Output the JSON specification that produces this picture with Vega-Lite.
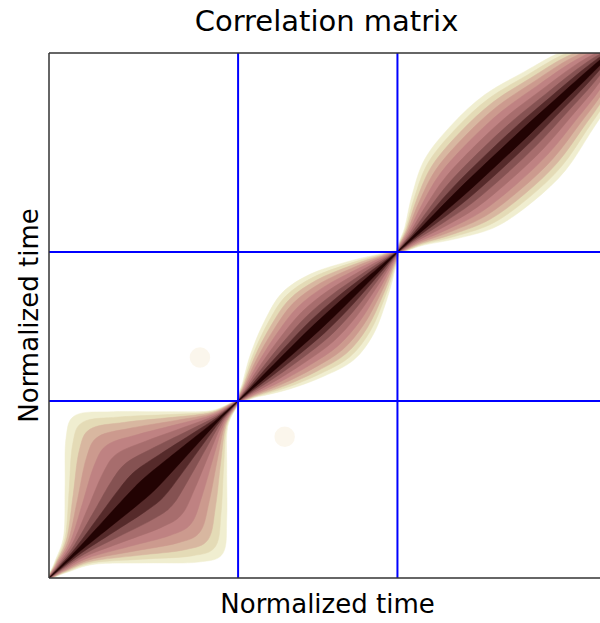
{
  "$schema": "https://vega.github.io/schema/vega-lite/v6.json",
  "width": 551,
  "height": 525,
  "autosize": {"type": "none"},
  "padding": {"left": 49, "top": 53, "right": 0, "bottom": 45},
  "background": "white",
  "config": {"view": {"stroke": null}},
  "title": {"text": "Correlation matrix", "font": "DejaVu Sans", "fontSize": 29, "fontWeight": "normal", "color": "#000000", "anchor": "middle", "baseline": "alphabetic", "offset": 21, "dx": 2, "dy": 29},
  "datasets": {
    "bands": [
      {"b":1,"k":1,"o":0,"x":0,"y":0},{"b":1,"k":1,"o":1,"x":0.0101,"y":0.0303},{"b":1,"k":1,"o":2,"x":0.0263,"y":0.0815},{"b":1,"k":1,"o":3,"x":0.0286,"y":0.1736},{"b":1,"k":1,"o":4,"x":0.0303,"y":0.2663},{"b":1,"k":1,"o":5,"x":0.0472,"y":0.31},{"b":1,"k":1,"o":6,"x":0.1146,"y":0.3168},{"b":1,"k":1,"o":7,"x":0.209,"y":0.3168},{"b":1,"k":1,"o":8,"x":0.2881,"y":0.3185},{"b":1,"k":1,"o":9,"x":0.337,"y":0.337},{"b":1,"k":1,"o":10,"x":0.3185,"y":0.2881},{"b":1,"k":1,"o":11,"x":0.3168,"y":0.209},{"b":1,"k":1,"o":12,"x":0.3168,"y":0.1146},{"b":1,"k":1,"o":13,"x":0.31,"y":0.0472},{"b":1,"k":1,"o":14,"x":0.2663,"y":0.0303},{"b":1,"k":1,"o":15,"x":0.1736,"y":0.0286},{"b":1,"k":1,"o":16,"x":0.0815,"y":0.0263},{"b":1,"k":1,"o":17,"x":0.0303,"y":0.0101},
      {"b":2,"k":1,"o":0,"x":0.337,"y":0.337},{"b":2,"k":1,"o":1,"x":0.3455,"y":0.3739},{"b":2,"k":1,"o":2,"x":0.3597,"y":0.4279},{"b":2,"k":1,"o":3,"x":0.3839,"y":0.4889},{"b":2,"k":1,"o":4,"x":0.4151,"y":0.5429},{"b":2,"k":1,"o":5,"x":0.4648,"y":0.5784},{"b":2,"k":1,"o":6,"x":0.5273,"y":0.6011},{"b":2,"k":1,"o":7,"x":0.5813,"y":0.6153},{"b":2,"k":1,"o":8,"x":0.621,"y":0.621},{"b":2,"k":1,"o":9,"x":0.6153,"y":0.5813},{"b":2,"k":1,"o":10,"x":0.6011,"y":0.5273},{"b":2,"k":1,"o":11,"x":0.5784,"y":0.4648},{"b":2,"k":1,"o":12,"x":0.5429,"y":0.4151},{"b":2,"k":1,"o":13,"x":0.4889,"y":0.3839},{"b":2,"k":1,"o":14,"x":0.4279,"y":0.3597},{"b":2,"k":1,"o":15,"x":0.3739,"y":0.3455},
      {"b":3,"k":1,"o":0,"x":0.621,"y":0.621},{"b":3,"k":1,"o":1,"x":0.6342,"y":0.6684},{"b":3,"k":1,"o":2,"x":0.6475,"y":0.7309},{"b":3,"k":1,"o":3,"x":0.6703,"y":0.7991},{"b":3,"k":1,"o":4,"x":0.7188,"y":0.8644},{"b":3,"k":1,"o":5,"x":0.7764,"y":0.9204},{"b":3,"k":1,"o":6,"x":0.8466,"y":0.964},{"b":3,"k":1,"o":7,"x":0.909,"y":1.0},{"b":3,"k":1,"o":8,"x":0.9621,"y":1.0151},{"b":3,"k":1,"o":9,"x":1,"y":1},{"b":3,"k":1,"o":10,"x":1.0151,"y":0.9621},{"b":3,"k":1,"o":11,"x":1.0,"y":0.909},{"b":3,"k":1,"o":12,"x":0.964,"y":0.8466},{"b":3,"k":1,"o":13,"x":0.9204,"y":0.7764},{"b":3,"k":1,"o":14,"x":0.8644,"y":0.7188},{"b":3,"k":1,"o":15,"x":0.7991,"y":0.6703},{"b":3,"k":1,"o":16,"x":0.7309,"y":0.6475},{"b":3,"k":1,"o":17,"x":0.6684,"y":0.6342},

      {"b":1,"k":2,"o":0,"x":0,"y":0},{"b":1,"k":2,"o":1,"x":0.0111,"y":0.0293},{"b":1,"k":2,"o":2,"x":0.0291,"y":0.0787},{"b":1,"k":2,"o":3,"x":0.0358,"y":0.1664},{"b":1,"k":2,"o":4,"x":0.0421,"y":0.2545},{"b":1,"k":2,"o":5,"x":0.0603,"y":0.2969},{"b":1,"k":2,"o":6,"x":0.1247,"y":0.3067},{"b":1,"k":2,"o":7,"x":0.2144,"y":0.3114},{"b":1,"k":2,"o":8,"x":0.2896,"y":0.317},{"b":1,"k":2,"o":9,"x":0.337,"y":0.337},{"b":1,"k":2,"o":10,"x":0.317,"y":0.2896},{"b":1,"k":2,"o":11,"x":0.3114,"y":0.2144},{"b":1,"k":2,"o":12,"x":0.3067,"y":0.1247},{"b":1,"k":2,"o":13,"x":0.2969,"y":0.0603},{"b":1,"k":2,"o":14,"x":0.2545,"y":0.0421},{"b":1,"k":2,"o":15,"x":0.1664,"y":0.0358},{"b":1,"k":2,"o":16,"x":0.0787,"y":0.0291},{"b":1,"k":2,"o":17,"x":0.0293,"y":0.0111},
      {"b":2,"k":2,"o":0,"x":0.337,"y":0.337},{"b":2,"k":2,"o":1,"x":0.3469,"y":0.3725},{"b":2,"k":2,"o":2,"x":0.3631,"y":0.4245},{"b":2,"k":2,"o":3,"x":0.3891,"y":0.4837},{"b":2,"k":2,"o":4,"x":0.4215,"y":0.5365},{"b":2,"k":2,"o":5,"x":0.4705,"y":0.5727},{"b":2,"k":2,"o":6,"x":0.531,"y":0.5974},{"b":2,"k":2,"o":7,"x":0.583,"y":0.6136},{"b":2,"k":2,"o":8,"x":0.621,"y":0.621},{"b":2,"k":2,"o":9,"x":0.6136,"y":0.583},{"b":2,"k":2,"o":10,"x":0.5974,"y":0.531},{"b":2,"k":2,"o":11,"x":0.5727,"y":0.4705},{"b":2,"k":2,"o":12,"x":0.5365,"y":0.4215},{"b":2,"k":2,"o":13,"x":0.4837,"y":0.3891},{"b":2,"k":2,"o":14,"x":0.4245,"y":0.3631},{"b":2,"k":2,"o":15,"x":0.3725,"y":0.3469},
      {"b":3,"k":2,"o":0,"x":0.621,"y":0.621},{"b":3,"k":2,"o":1,"x":0.6359,"y":0.6667},{"b":3,"k":2,"o":2,"x":0.6517,"y":0.7267},{"b":3,"k":2,"o":3,"x":0.6767,"y":0.7927},{"b":3,"k":2,"o":4,"x":0.7261,"y":0.8571},{"b":3,"k":2,"o":5,"x":0.7836,"y":0.9132},{"b":3,"k":2,"o":6,"x":0.8525,"y":0.9581},{"b":3,"k":2,"o":7,"x":0.9135,"y":0.9955},{"b":3,"k":2,"o":8,"x":0.9647,"y":1.0125},{"b":3,"k":2,"o":9,"x":1,"y":1},{"b":3,"k":2,"o":10,"x":1.0125,"y":0.9647},{"b":3,"k":2,"o":11,"x":0.9955,"y":0.9135},{"b":3,"k":2,"o":12,"x":0.9581,"y":0.8525},{"b":3,"k":2,"o":13,"x":0.9132,"y":0.7836},{"b":3,"k":2,"o":14,"x":0.8571,"y":0.7261},{"b":3,"k":2,"o":15,"x":0.7927,"y":0.6767},{"b":3,"k":2,"o":16,"x":0.7267,"y":0.6517},{"b":3,"k":2,"o":17,"x":0.6667,"y":0.6359},

      {"b":1,"k":3,"o":0,"x":0,"y":0},{"b":1,"k":3,"o":1,"x":0.0121,"y":0.0283},{"b":1,"k":3,"o":2,"x":0.0318,"y":0.076},{"b":1,"k":3,"o":3,"x":0.0431,"y":0.1591},{"b":1,"k":3,"o":4,"x":0.0539,"y":0.2427},{"b":1,"k":3,"o":5,"x":0.0735,"y":0.2837},{"b":1,"k":3,"o":6,"x":0.1348,"y":0.2966},{"b":1,"k":3,"o":7,"x":0.2198,"y":0.306},{"b":1,"k":3,"o":8,"x":0.2911,"y":0.3155},{"b":1,"k":3,"o":9,"x":0.337,"y":0.337},{"b":1,"k":3,"o":10,"x":0.3155,"y":0.2911},{"b":1,"k":3,"o":11,"x":0.306,"y":0.2198},{"b":1,"k":3,"o":12,"x":0.2966,"y":0.1348},{"b":1,"k":3,"o":13,"x":0.2837,"y":0.0735},{"b":1,"k":3,"o":14,"x":0.2427,"y":0.0539},{"b":1,"k":3,"o":15,"x":0.1591,"y":0.0431},{"b":1,"k":3,"o":16,"x":0.076,"y":0.0318},{"b":1,"k":3,"o":17,"x":0.0283,"y":0.0121},
      {"b":2,"k":3,"o":0,"x":0.337,"y":0.337},{"b":2,"k":3,"o":1,"x":0.3483,"y":0.3711},{"b":2,"k":3,"o":2,"x":0.3665,"y":0.4211},{"b":2,"k":3,"o":3,"x":0.3944,"y":0.4784},{"b":2,"k":3,"o":4,"x":0.4279,"y":0.5301},{"b":2,"k":3,"o":5,"x":0.4762,"y":0.567},{"b":2,"k":3,"o":6,"x":0.5347,"y":0.5937},{"b":2,"k":3,"o":7,"x":0.5847,"y":0.6119},{"b":2,"k":3,"o":8,"x":0.621,"y":0.621},{"b":2,"k":3,"o":9,"x":0.6119,"y":0.5847},{"b":2,"k":3,"o":10,"x":0.5937,"y":0.5347},{"b":2,"k":3,"o":11,"x":0.567,"y":0.4762},{"b":2,"k":3,"o":12,"x":0.5301,"y":0.4279},{"b":2,"k":3,"o":13,"x":0.4784,"y":0.3944},{"b":2,"k":3,"o":14,"x":0.4211,"y":0.3665},{"b":2,"k":3,"o":15,"x":0.3711,"y":0.3483},
      {"b":3,"k":3,"o":0,"x":0.621,"y":0.621},{"b":3,"k":3,"o":1,"x":0.6376,"y":0.665},{"b":3,"k":3,"o":2,"x":0.6558,"y":0.7226},{"b":3,"k":3,"o":3,"x":0.6832,"y":0.7862},{"b":3,"k":3,"o":4,"x":0.7334,"y":0.8498},{"b":3,"k":3,"o":5,"x":0.7908,"y":0.906},{"b":3,"k":3,"o":6,"x":0.8583,"y":0.9523},{"b":3,"k":3,"o":7,"x":0.9181,"y":0.9909},{"b":3,"k":3,"o":8,"x":0.9674,"y":1.0098},{"b":3,"k":3,"o":9,"x":1,"y":1},{"b":3,"k":3,"o":10,"x":1.0098,"y":0.9674},{"b":3,"k":3,"o":11,"x":0.9909,"y":0.9181},{"b":3,"k":3,"o":12,"x":0.9523,"y":0.8583},{"b":3,"k":3,"o":13,"x":0.906,"y":0.7908},{"b":3,"k":3,"o":14,"x":0.8498,"y":0.7334},{"b":3,"k":3,"o":15,"x":0.7862,"y":0.6832},{"b":3,"k":3,"o":16,"x":0.7226,"y":0.6558},{"b":3,"k":3,"o":17,"x":0.665,"y":0.6376},

      {"b":1,"k":4,"o":0,"x":0,"y":0},{"b":1,"k":4,"o":1,"x":0.0132,"y":0.0272},{"b":1,"k":4,"o":2,"x":0.0349,"y":0.0729},{"b":1,"k":4,"o":3,"x":0.0511,"y":0.1511},{"b":1,"k":4,"o":4,"x":0.0669,"y":0.2297},{"b":1,"k":4,"o":5,"x":0.0879,"y":0.2693},{"b":1,"k":4,"o":6,"x":0.1459,"y":0.2855},{"b":1,"k":4,"o":7,"x":0.2257,"y":0.3001},{"b":1,"k":4,"o":8,"x":0.2928,"y":0.3138},{"b":1,"k":4,"o":9,"x":0.337,"y":0.337},{"b":1,"k":4,"o":10,"x":0.3138,"y":0.2928},{"b":1,"k":4,"o":11,"x":0.3001,"y":0.2257},{"b":1,"k":4,"o":12,"x":0.2855,"y":0.1459},{"b":1,"k":4,"o":13,"x":0.2693,"y":0.0879},{"b":1,"k":4,"o":14,"x":0.2297,"y":0.0669},{"b":1,"k":4,"o":15,"x":0.1511,"y":0.0511},{"b":1,"k":4,"o":16,"x":0.0729,"y":0.0349},{"b":1,"k":4,"o":17,"x":0.0272,"y":0.0132},
      {"b":2,"k":4,"o":0,"x":0.337,"y":0.337},{"b":2,"k":4,"o":1,"x":0.3499,"y":0.3695},{"b":2,"k":4,"o":2,"x":0.3703,"y":0.4173},{"b":2,"k":4,"o":3,"x":0.4002,"y":0.4726},{"b":2,"k":4,"o":4,"x":0.4349,"y":0.5231},{"b":2,"k":4,"o":5,"x":0.4824,"y":0.5608},{"b":2,"k":4,"o":6,"x":0.5387,"y":0.5897},{"b":2,"k":4,"o":7,"x":0.5866,"y":0.61},{"b":2,"k":4,"o":8,"x":0.621,"y":0.621},{"b":2,"k":4,"o":9,"x":0.61,"y":0.5866},{"b":2,"k":4,"o":10,"x":0.5897,"y":0.5387},{"b":2,"k":4,"o":11,"x":0.5608,"y":0.4824},{"b":2,"k":4,"o":12,"x":0.5231,"y":0.4349},{"b":2,"k":4,"o":13,"x":0.4726,"y":0.4002},{"b":2,"k":4,"o":14,"x":0.4173,"y":0.3703},{"b":2,"k":4,"o":15,"x":0.3695,"y":0.3499},
      {"b":3,"k":4,"o":0,"x":0.621,"y":0.621},{"b":3,"k":4,"o":1,"x":0.6395,"y":0.6631},{"b":3,"k":4,"o":2,"x":0.6604,"y":0.718},{"b":3,"k":4,"o":3,"x":0.6903,"y":0.7791},{"b":3,"k":4,"o":4,"x":0.7414,"y":0.8418},{"b":3,"k":4,"o":5,"x":0.7987,"y":0.8981},{"b":3,"k":4,"o":6,"x":0.8648,"y":0.9458},{"b":3,"k":4,"o":7,"x":0.9231,"y":0.9859},{"b":3,"k":4,"o":8,"x":0.9703,"y":1.0069},{"b":3,"k":4,"o":9,"x":1,"y":1},{"b":3,"k":4,"o":10,"x":1.0069,"y":0.9703},{"b":3,"k":4,"o":11,"x":0.9859,"y":0.9231},{"b":3,"k":4,"o":12,"x":0.9458,"y":0.8648},{"b":3,"k":4,"o":13,"x":0.8981,"y":0.7987},{"b":3,"k":4,"o":14,"x":0.8418,"y":0.7414},{"b":3,"k":4,"o":15,"x":0.7791,"y":0.6903},{"b":3,"k":4,"o":16,"x":0.718,"y":0.6604},{"b":3,"k":4,"o":17,"x":0.6631,"y":0.6395},

      {"b":1,"k":5,"o":0,"x":0,"y":0},{"b":1,"k":5,"o":1,"x":0.0144,"y":0.026},{"b":1,"k":5,"o":2,"x":0.0382,"y":0.0696},{"b":1,"k":5,"o":3,"x":0.0598,"y":0.1424},{"b":1,"k":5,"o":4,"x":0.081,"y":0.2156},{"b":1,"k":5,"o":5,"x":0.1037,"y":0.2535},{"b":1,"k":5,"o":6,"x":0.1581,"y":0.2733},{"b":1,"k":5,"o":7,"x":0.2322,"y":0.2936},{"b":1,"k":5,"o":8,"x":0.2946,"y":0.312},{"b":1,"k":5,"o":9,"x":0.337,"y":0.337},{"b":1,"k":5,"o":10,"x":0.312,"y":0.2946},{"b":1,"k":5,"o":11,"x":0.2936,"y":0.2322},{"b":1,"k":5,"o":12,"x":0.2733,"y":0.1581},{"b":1,"k":5,"o":13,"x":0.2535,"y":0.1037},{"b":1,"k":5,"o":14,"x":0.2156,"y":0.081},{"b":1,"k":5,"o":15,"x":0.1424,"y":0.0598},{"b":1,"k":5,"o":16,"x":0.0696,"y":0.0382},{"b":1,"k":5,"o":17,"x":0.026,"y":0.0144},
      {"b":2,"k":5,"o":0,"x":0.337,"y":0.337},{"b":2,"k":5,"o":1,"x":0.3516,"y":0.3678},{"b":2,"k":5,"o":2,"x":0.3744,"y":0.4132},{"b":2,"k":5,"o":3,"x":0.4065,"y":0.4663},{"b":2,"k":5,"o":4,"x":0.4426,"y":0.5154},{"b":2,"k":5,"o":5,"x":0.4892,"y":0.554},{"b":2,"k":5,"o":6,"x":0.5432,"y":0.5852},{"b":2,"k":5,"o":7,"x":0.5886,"y":0.608},{"b":2,"k":5,"o":8,"x":0.621,"y":0.621},{"b":2,"k":5,"o":9,"x":0.608,"y":0.5886},{"b":2,"k":5,"o":10,"x":0.5852,"y":0.5432},{"b":2,"k":5,"o":11,"x":0.554,"y":0.4892},{"b":2,"k":5,"o":12,"x":0.5154,"y":0.4426},{"b":2,"k":5,"o":13,"x":0.4663,"y":0.4065},{"b":2,"k":5,"o":14,"x":0.4132,"y":0.3744},{"b":2,"k":5,"o":15,"x":0.3678,"y":0.3516},
      {"b":3,"k":5,"o":0,"x":0.621,"y":0.621},{"b":3,"k":5,"o":1,"x":0.6416,"y":0.661},{"b":3,"k":5,"o":2,"x":0.6654,"y":0.713},{"b":3,"k":5,"o":3,"x":0.698,"y":0.7714},{"b":3,"k":5,"o":4,"x":0.7501,"y":0.8331},{"b":3,"k":5,"o":5,"x":0.8074,"y":0.8894},{"b":3,"k":5,"o":6,"x":0.8718,"y":0.9388},{"b":3,"k":5,"o":7,"x":0.9286,"y":0.9804},{"b":3,"k":5,"o":8,"x":0.9735,"y":1.0037},{"b":3,"k":5,"o":9,"x":1,"y":1},{"b":3,"k":5,"o":10,"x":1.0037,"y":0.9735},{"b":3,"k":5,"o":11,"x":0.9804,"y":0.9286},{"b":3,"k":5,"o":12,"x":0.9388,"y":0.8718},{"b":3,"k":5,"o":13,"x":0.8894,"y":0.8074},{"b":3,"k":5,"o":14,"x":0.8331,"y":0.7501},{"b":3,"k":5,"o":15,"x":0.7714,"y":0.698},{"b":3,"k":5,"o":16,"x":0.713,"y":0.6654},{"b":3,"k":5,"o":17,"x":0.661,"y":0.6416},

      {"b":1,"k":6,"o":0,"x":0,"y":0},{"b":1,"k":6,"o":1,"x":0.0158,"y":0.0246},{"b":1,"k":6,"o":2,"x":0.0418,"y":0.066},{"b":1,"k":6,"o":3,"x":0.0692,"y":0.133},{"b":1,"k":6,"o":4,"x":0.0964,"y":0.2002},{"b":1,"k":6,"o":5,"x":0.1208,"y":0.2364},{"b":1,"k":6,"o":6,"x":0.1712,"y":0.2602},{"b":1,"k":6,"o":7,"x":0.2392,"y":0.2866},{"b":1,"k":6,"o":8,"x":0.2966,"y":0.31},{"b":1,"k":6,"o":9,"x":0.337,"y":0.337},{"b":1,"k":6,"o":10,"x":0.31,"y":0.2966},{"b":1,"k":6,"o":11,"x":0.2866,"y":0.2392},{"b":1,"k":6,"o":12,"x":0.2602,"y":0.1712},{"b":1,"k":6,"o":13,"x":0.2364,"y":0.1208},{"b":1,"k":6,"o":14,"x":0.2002,"y":0.0964},{"b":1,"k":6,"o":15,"x":0.133,"y":0.0692},{"b":1,"k":6,"o":16,"x":0.066,"y":0.0418},{"b":1,"k":6,"o":17,"x":0.0246,"y":0.0158},
      {"b":2,"k":6,"o":0,"x":0.337,"y":0.337},{"b":2,"k":6,"o":1,"x":0.3535,"y":0.3659},{"b":2,"k":6,"o":2,"x":0.3788,"y":0.4088},{"b":2,"k":6,"o":3,"x":0.4133,"y":0.4595},{"b":2,"k":6,"o":4,"x":0.4509,"y":0.5071},{"b":2,"k":6,"o":5,"x":0.4966,"y":0.5466},{"b":2,"k":6,"o":6,"x":0.548,"y":0.5804},{"b":2,"k":6,"o":7,"x":0.5908,"y":0.6058},{"b":2,"k":6,"o":8,"x":0.621,"y":0.621},{"b":2,"k":6,"o":9,"x":0.6058,"y":0.5908},{"b":2,"k":6,"o":10,"x":0.5804,"y":0.548},{"b":2,"k":6,"o":11,"x":0.5466,"y":0.4966},{"b":2,"k":6,"o":12,"x":0.5071,"y":0.4509},{"b":2,"k":6,"o":13,"x":0.4595,"y":0.4133},{"b":2,"k":6,"o":14,"x":0.4088,"y":0.3788},{"b":2,"k":6,"o":15,"x":0.3659,"y":0.3535},
      {"b":3,"k":6,"o":0,"x":0.621,"y":0.621},{"b":3,"k":6,"o":1,"x":0.6438,"y":0.6588},{"b":3,"k":6,"o":2,"x":0.6709,"y":0.7075},{"b":3,"k":6,"o":3,"x":0.7064,"y":0.763},{"b":3,"k":6,"o":4,"x":0.7596,"y":0.8236},{"b":3,"k":6,"o":5,"x":0.8167,"y":0.8801},{"b":3,"k":6,"o":6,"x":0.8795,"y":0.9311},{"b":3,"k":6,"o":7,"x":0.9345,"y":0.9745},{"b":3,"k":6,"o":8,"x":0.9769,"y":1.0003},{"b":3,"k":6,"o":9,"x":1,"y":1},{"b":3,"k":6,"o":10,"x":1.0003,"y":0.9769},{"b":3,"k":6,"o":11,"x":0.9745,"y":0.9345},{"b":3,"k":6,"o":12,"x":0.9311,"y":0.8795},{"b":3,"k":6,"o":13,"x":0.8801,"y":0.8167},{"b":3,"k":6,"o":14,"x":0.8236,"y":0.7596},{"b":3,"k":6,"o":15,"x":0.763,"y":0.7064},{"b":3,"k":6,"o":16,"x":0.7075,"y":0.6709},{"b":3,"k":6,"o":17,"x":0.6588,"y":0.6438},

      {"b":1,"k":7,"o":0,"x":0,"y":0},{"b":1,"k":7,"o":1,"x":0.0171,"y":0.0233},{"b":1,"k":7,"o":2,"x":0.0453,"y":0.0625},{"b":1,"k":7,"o":3,"x":0.0786,"y":0.1236},{"b":1,"k":7,"o":4,"x":0.1117,"y":0.1849},{"b":1,"k":7,"o":5,"x":0.1379,"y":0.2193},{"b":1,"k":7,"o":6,"x":0.1844,"y":0.247},{"b":1,"k":7,"o":7,"x":0.2462,"y":0.2796},{"b":1,"k":7,"o":8,"x":0.2986,"y":0.308},{"b":1,"k":7,"o":9,"x":0.337,"y":0.337},{"b":1,"k":7,"o":10,"x":0.308,"y":0.2986},{"b":1,"k":7,"o":11,"x":0.2796,"y":0.2462},{"b":1,"k":7,"o":12,"x":0.247,"y":0.1844},{"b":1,"k":7,"o":13,"x":0.2193,"y":0.1379},{"b":1,"k":7,"o":14,"x":0.1849,"y":0.1117},{"b":1,"k":7,"o":15,"x":0.1236,"y":0.0786},{"b":1,"k":7,"o":16,"x":0.0625,"y":0.0453},{"b":1,"k":7,"o":17,"x":0.0233,"y":0.0171},
      {"b":2,"k":7,"o":0,"x":0.337,"y":0.337},{"b":2,"k":7,"o":1,"x":0.3553,"y":0.3641},{"b":2,"k":7,"o":2,"x":0.3832,"y":0.4044},{"b":2,"k":7,"o":3,"x":0.4201,"y":0.4527},{"b":2,"k":7,"o":4,"x":0.4592,"y":0.4988},{"b":2,"k":7,"o":5,"x":0.504,"y":0.5392},{"b":2,"k":7,"o":6,"x":0.5528,"y":0.5756},{"b":2,"k":7,"o":7,"x":0.593,"y":0.6036},{"b":2,"k":7,"o":8,"x":0.621,"y":0.621},{"b":2,"k":7,"o":9,"x":0.6036,"y":0.593},{"b":2,"k":7,"o":10,"x":0.5756,"y":0.5528},{"b":2,"k":7,"o":11,"x":0.5392,"y":0.504},{"b":2,"k":7,"o":12,"x":0.4988,"y":0.4592},{"b":2,"k":7,"o":13,"x":0.4527,"y":0.4201},{"b":2,"k":7,"o":14,"x":0.4044,"y":0.3832},{"b":2,"k":7,"o":15,"x":0.3641,"y":0.3553},
      {"b":3,"k":7,"o":0,"x":0.621,"y":0.621},{"b":3,"k":7,"o":1,"x":0.646,"y":0.6566},{"b":3,"k":7,"o":2,"x":0.6763,"y":0.7021},{"b":3,"k":7,"o":3,"x":0.7147,"y":0.7547},{"b":3,"k":7,"o":4,"x":0.769,"y":0.8142},{"b":3,"k":7,"o":5,"x":0.8261,"y":0.8707},{"b":3,"k":7,"o":6,"x":0.8871,"y":0.9235},{"b":3,"k":7,"o":7,"x":0.9404,"y":0.9686},{"b":3,"k":7,"o":8,"x":0.9804,"y":0.9968},{"b":3,"k":7,"o":9,"x":1,"y":1},{"b":3,"k":7,"o":10,"x":0.9968,"y":0.9804},{"b":3,"k":7,"o":11,"x":0.9686,"y":0.9404},{"b":3,"k":7,"o":12,"x":0.9235,"y":0.8871},{"b":3,"k":7,"o":13,"x":0.8707,"y":0.8261},{"b":3,"k":7,"o":14,"x":0.8142,"y":0.769},{"b":3,"k":7,"o":15,"x":0.7547,"y":0.7147},{"b":3,"k":7,"o":16,"x":0.7021,"y":0.6763},{"b":3,"k":7,"o":17,"x":0.6566,"y":0.646},

      {"b":1,"k":8,"o":0,"x":0,"y":0},{"b":1,"k":8,"o":1,"x":0.0183,"y":0.0221},{"b":1,"k":8,"o":2,"x":0.0487,"y":0.0591},{"b":1,"k":8,"o":3,"x":0.0873,"y":0.1149},{"b":1,"k":8,"o":4,"x":0.1259,"y":0.1707},{"b":1,"k":8,"o":5,"x":0.1536,"y":0.2036},{"b":1,"k":8,"o":6,"x":0.1965,"y":0.2349},{"b":1,"k":8,"o":7,"x":0.2527,"y":0.2731},{"b":1,"k":8,"o":8,"x":0.3004,"y":0.3062},{"b":1,"k":8,"o":9,"x":0.337,"y":0.337},{"b":1,"k":8,"o":10,"x":0.3062,"y":0.3004},{"b":1,"k":8,"o":11,"x":0.2731,"y":0.2527},{"b":1,"k":8,"o":12,"x":0.2349,"y":0.1965},{"b":1,"k":8,"o":13,"x":0.2036,"y":0.1536},{"b":1,"k":8,"o":14,"x":0.1707,"y":0.1259},{"b":1,"k":8,"o":15,"x":0.1149,"y":0.0873},{"b":1,"k":8,"o":16,"x":0.0591,"y":0.0487},{"b":1,"k":8,"o":17,"x":0.0221,"y":0.0183},
      {"b":2,"k":8,"o":0,"x":0.337,"y":0.337},{"b":2,"k":8,"o":1,"x":0.357,"y":0.3624},{"b":2,"k":8,"o":2,"x":0.3873,"y":0.4003},{"b":2,"k":8,"o":3,"x":0.4264,"y":0.4464},{"b":2,"k":8,"o":4,"x":0.4669,"y":0.4911},{"b":2,"k":8,"o":5,"x":0.5108,"y":0.5324},{"b":2,"k":8,"o":6,"x":0.5572,"y":0.5712},{"b":2,"k":8,"o":7,"x":0.5951,"y":0.6015},{"b":2,"k":8,"o":8,"x":0.621,"y":0.621},{"b":2,"k":8,"o":9,"x":0.6015,"y":0.5951},{"b":2,"k":8,"o":10,"x":0.5712,"y":0.5572},{"b":2,"k":8,"o":11,"x":0.5324,"y":0.5108},{"b":2,"k":8,"o":12,"x":0.4911,"y":0.4669},{"b":2,"k":8,"o":13,"x":0.4464,"y":0.4264},{"b":2,"k":8,"o":14,"x":0.4003,"y":0.3873},{"b":2,"k":8,"o":15,"x":0.3624,"y":0.357},
      {"b":3,"k":8,"o":0,"x":0.621,"y":0.621},{"b":3,"k":8,"o":1,"x":0.6481,"y":0.6545},{"b":3,"k":8,"o":2,"x":0.6813,"y":0.6971},{"b":3,"k":8,"o":3,"x":0.7225,"y":0.7469},{"b":3,"k":8,"o":4,"x":0.7778,"y":0.8054},{"b":3,"k":8,"o":5,"x":0.8347,"y":0.8621},{"b":3,"k":8,"o":6,"x":0.8941,"y":0.9165},{"b":3,"k":8,"o":7,"x":0.9459,"y":0.9631},{"b":3,"k":8,"o":8,"x":0.9836,"y":0.9936},{"b":3,"k":8,"o":9,"x":1,"y":1},{"b":3,"k":8,"o":10,"x":0.9936,"y":0.9836},{"b":3,"k":8,"o":11,"x":0.9631,"y":0.9459},{"b":3,"k":8,"o":12,"x":0.9165,"y":0.8941},{"b":3,"k":8,"o":13,"x":0.8621,"y":0.8347},{"b":3,"k":8,"o":14,"x":0.8054,"y":0.7778},{"b":3,"k":8,"o":15,"x":0.7469,"y":0.7225},{"b":3,"k":8,"o":16,"x":0.6971,"y":0.6813},{"b":3,"k":8,"o":17,"x":0.6545,"y":0.6481},

      {"b":1,"k":9,"o":0,"x":0,"y":0},{"b":1,"k":9,"o":1,"x":0.0194,"y":0.021},{"b":1,"k":9,"o":2,"x":0.0517,"y":0.0561},{"b":1,"k":9,"o":3,"x":0.0953,"y":0.1069},{"b":1,"k":9,"o":4,"x":0.1389,"y":0.1577},{"b":1,"k":9,"o":5,"x":0.1681,"y":0.1891},{"b":1,"k":9,"o":6,"x":0.2076,"y":0.2238},{"b":1,"k":9,"o":7,"x":0.2586,"y":0.2672},{"b":1,"k":9,"o":8,"x":0.3021,"y":0.3045},{"b":1,"k":9,"o":9,"x":0.337,"y":0.337},{"b":1,"k":9,"o":10,"x":0.3045,"y":0.3021},{"b":1,"k":9,"o":11,"x":0.2672,"y":0.2586},{"b":1,"k":9,"o":12,"x":0.2238,"y":0.2076},{"b":1,"k":9,"o":13,"x":0.1891,"y":0.1681},{"b":1,"k":9,"o":14,"x":0.1577,"y":0.1389},{"b":1,"k":9,"o":15,"x":0.1069,"y":0.0953},{"b":1,"k":9,"o":16,"x":0.0561,"y":0.0517},{"b":1,"k":9,"o":17,"x":0.021,"y":0.0194},
      {"b":2,"k":9,"o":0,"x":0.337,"y":0.337},{"b":2,"k":9,"o":1,"x":0.3586,"y":0.3608},{"b":2,"k":9,"o":2,"x":0.3911,"y":0.3965},{"b":2,"k":9,"o":3,"x":0.4322,"y":0.4406},{"b":2,"k":9,"o":4,"x":0.4739,"y":0.4841},{"b":2,"k":9,"o":5,"x":0.5171,"y":0.5261},{"b":2,"k":9,"o":6,"x":0.5612,"y":0.5672},{"b":2,"k":9,"o":7,"x":0.5969,"y":0.5997},{"b":2,"k":9,"o":8,"x":0.621,"y":0.621},{"b":2,"k":9,"o":9,"x":0.5997,"y":0.5969},{"b":2,"k":9,"o":10,"x":0.5672,"y":0.5612},{"b":2,"k":9,"o":11,"x":0.5261,"y":0.5171},{"b":2,"k":9,"o":12,"x":0.4841,"y":0.4739},{"b":2,"k":9,"o":13,"x":0.4406,"y":0.4322},{"b":2,"k":9,"o":14,"x":0.3965,"y":0.3911},{"b":2,"k":9,"o":15,"x":0.3608,"y":0.3586},
      {"b":3,"k":9,"o":0,"x":0.621,"y":0.621},{"b":3,"k":9,"o":1,"x":0.6499,"y":0.6527},{"b":3,"k":9,"o":2,"x":0.6859,"y":0.6925},{"b":3,"k":9,"o":3,"x":0.7295,"y":0.7399},{"b":3,"k":9,"o":4,"x":0.7858,"y":0.7974},{"b":3,"k":9,"o":5,"x":0.8426,"y":0.8542},{"b":3,"k":9,"o":6,"x":0.9006,"y":0.91},{"b":3,"k":9,"o":7,"x":0.9509,"y":0.9581},{"b":3,"k":9,"o":8,"x":0.9865,"y":0.9907},{"b":3,"k":9,"o":9,"x":1,"y":1},{"b":3,"k":9,"o":10,"x":0.9907,"y":0.9865},{"b":3,"k":9,"o":11,"x":0.9581,"y":0.9509},{"b":3,"k":9,"o":12,"x":0.91,"y":0.9006},{"b":3,"k":9,"o":13,"x":0.8542,"y":0.8426},{"b":3,"k":9,"o":14,"x":0.7974,"y":0.7858},{"b":3,"k":9,"o":15,"x":0.7399,"y":0.7295},{"b":3,"k":9,"o":16,"x":0.6925,"y":0.6859},{"b":3,"k":9,"o":17,"x":0.6527,"y":0.6499}
    ],
    "spots": [{"x": 0.269, "y": 0.42}, {"x": 0.42, "y": 0.269}],
    "cuts": [{"p": 0.337}, {"p": 0.621}],
    "edges": [{"v": 0}, {"v": 1}]
  },
  "layer": [
    {
      "data": {"name": "bands"},
      "transform": [{"filter": "datum.k == 1"}],
      "mark": {"type": "line", "interpolate": "cardinal-closed", "fill": "#f0eed0", "color": "#f0eed0", "strokeWidth": 0.5, "clip": true},
      "encoding": {
        "x": {"field": "x", "type": "quantitative", "scale": {"domain": [0, 0.982], "nice": false, "zero": false},
          "axis": {"title": "Normalized time", "labels": false, "ticks": false, "domain": false, "grid": false, "titleFont": "DejaVu Sans", "titleFontSize": 26, "titleFontWeight": "normal", "titleColor": "#000000", "titleX": 278, "titleY": 34, "titleBaseline": "alphabetic", "titleAlign": "center"}},
        "y": {"field": "y", "type": "quantitative", "scale": {"domain": [0, 1], "nice": false, "zero": false},
          "axis": {"title": "Normalized time", "labels": false, "ticks": false, "domain": false, "grid": false, "titleFont": "DejaVu Sans", "titleFontSize": 26, "titleFontWeight": "normal", "titleColor": "#000000", "titleX": -12, "titleY": 262, "titleAngle": 270, "titleBaseline": "alphabetic", "titleAlign": "center"}},
        "detail": {"field": "b"},
        "order": {"field": "o", "type": "quantitative"}
      }
    },
    {"data": {"name": "bands"}, "transform": [{"filter": "datum.k == 2"}], "mark": {"type": "line", "interpolate": "cardinal-closed", "fill": "#e4dbb6", "color": "#e4dbb6", "strokeWidth": 0.5, "clip": true},
      "encoding": {"x": {"field": "x", "type": "quantitative"}, "y": {"field": "y", "type": "quantitative"}, "detail": {"field": "b"}, "order": {"field": "o", "type": "quantitative"}}},
    {"data": {"name": "bands"}, "transform": [{"filter": "datum.k == 3"}], "mark": {"type": "line", "interpolate": "cardinal-closed", "fill": "#d8b7a0", "color": "#d8b7a0", "strokeWidth": 0.5, "clip": true},
      "encoding": {"x": {"field": "x", "type": "quantitative"}, "y": {"field": "y", "type": "quantitative"}, "detail": {"field": "b"}, "order": {"field": "o", "type": "quantitative"}}},
    {"data": {"name": "bands"}, "transform": [{"filter": "datum.k == 4"}], "mark": {"type": "line", "interpolate": "cardinal-closed", "fill": "#cc9a8e", "color": "#cc9a8e", "strokeWidth": 0.5, "clip": true},
      "encoding": {"x": {"field": "x", "type": "quantitative"}, "y": {"field": "y", "type": "quantitative"}, "detail": {"field": "b"}, "order": {"field": "o", "type": "quantitative"}}},
    {"data": {"name": "bands"}, "transform": [{"filter": "datum.k == 5"}], "mark": {"type": "line", "interpolate": "cardinal-closed", "fill": "#bf8282", "color": "#bf8282", "strokeWidth": 0.5, "clip": true},
      "encoding": {"x": {"field": "x", "type": "quantitative"}, "y": {"field": "y", "type": "quantitative"}, "detail": {"field": "b"}, "order": {"field": "o", "type": "quantitative"}}},
    {"data": {"name": "bands"}, "transform": [{"filter": "datum.k == 6"}], "mark": {"type": "line", "interpolate": "cardinal-closed", "fill": "#a76d6d", "color": "#a76d6d", "strokeWidth": 0.5, "clip": true},
      "encoding": {"x": {"field": "x", "type": "quantitative"}, "y": {"field": "y", "type": "quantitative"}, "detail": {"field": "b"}, "order": {"field": "o", "type": "quantitative"}}},
    {"data": {"name": "bands"}, "transform": [{"filter": "datum.k == 7"}], "mark": {"type": "line", "interpolate": "cardinal-closed", "fill": "#855252", "color": "#855252", "strokeWidth": 0.5, "clip": true},
      "encoding": {"x": {"field": "x", "type": "quantitative"}, "y": {"field": "y", "type": "quantitative"}, "detail": {"field": "b"}, "order": {"field": "o", "type": "quantitative"}}},
    {"data": {"name": "bands"}, "transform": [{"filter": "datum.k == 8"}], "mark": {"type": "line", "interpolate": "cardinal-closed", "fill": "#552a2a", "color": "#552a2a", "strokeWidth": 0.5, "clip": true},
      "encoding": {"x": {"field": "x", "type": "quantitative"}, "y": {"field": "y", "type": "quantitative"}, "detail": {"field": "b"}, "order": {"field": "o", "type": "quantitative"}}},
    {"data": {"name": "bands"}, "transform": [{"filter": "datum.k == 9"}], "mark": {"type": "line", "interpolate": "cardinal-closed", "fill": "#220303", "color": "#220303", "strokeWidth": 0.5, "clip": true},
      "encoding": {"x": {"field": "x", "type": "quantitative"}, "y": {"field": "y", "type": "quantitative"}, "detail": {"field": "b"}, "order": {"field": "o", "type": "quantitative"}}},
    {"data": {"name": "spots"}, "mark": {"type": "point", "filled": true, "shape": "circle", "size": 420, "color": "#f8f0e0", "opacity": 0.6, "strokeWidth": 0},
      "encoding": {"x": {"field": "x", "type": "quantitative"}, "y": {"field": "y", "type": "quantitative"}}},
    {"data": {"name": "cuts"}, "mark": {"type": "rule", "color": "#0000ff", "strokeWidth": 2},
      "encoding": {"x": {"field": "p", "type": "quantitative"}}},
    {"data": {"name": "cuts"}, "mark": {"type": "rule", "color": "#0000ff", "strokeWidth": 2},
      "encoding": {"y": {"field": "p", "type": "quantitative"}}},
    {"data": {"name": "edges"}, "mark": {"type": "rule", "color": "#333333", "strokeWidth": 1.5},
      "encoding": {"y": {"field": "v", "type": "quantitative"}}},
    {"data": {"name": "edges"}, "transform": [{"filter": "datum.v == 0"}], "mark": {"type": "rule", "color": "#333333", "strokeWidth": 1.5},
      "encoding": {"x": {"field": "v", "type": "quantitative"}}}
  ]
}
